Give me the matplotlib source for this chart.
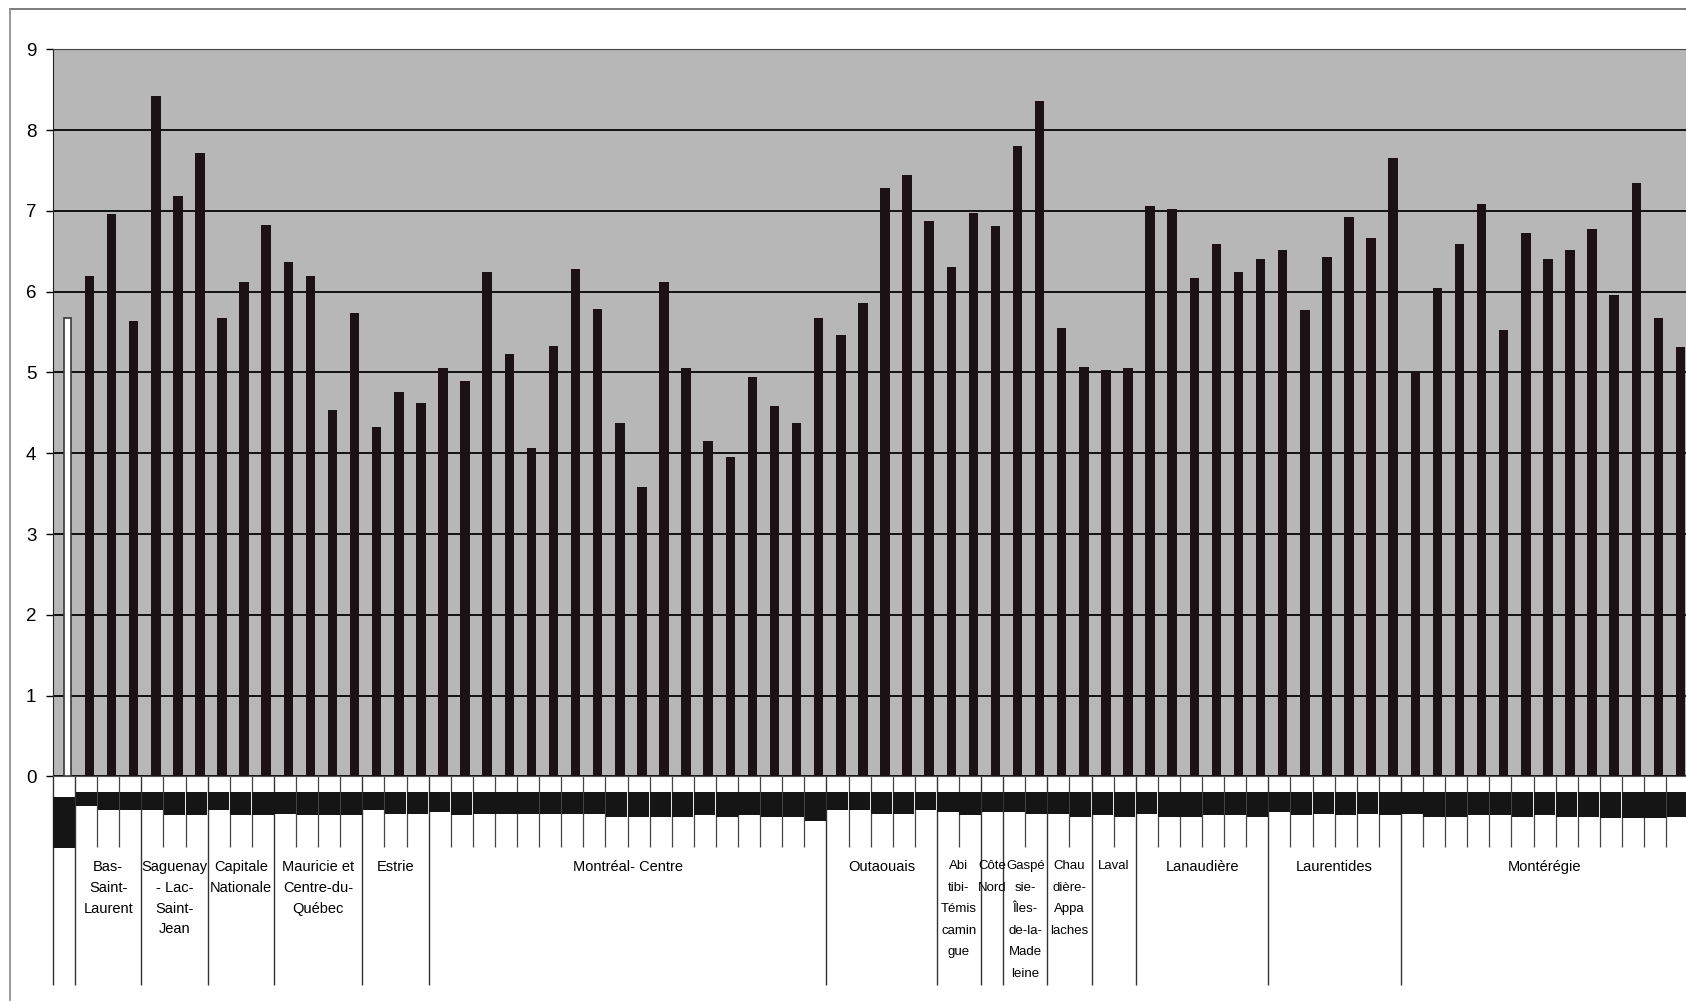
import matplotlib.pyplot as plt
from matplotlib.lines import Line2D

# region labels under the axis and how many bars each one covers
regions = ["", "Bas-\nSaint-\nLaurent", "Saguenay\n- Lac-\nSaint-\nJean", "Capitale\nNationale",
           "Mauricie et\nCentre-du-\nQuébec", "Estrie", "Montréal- Centre", "Outaouais",
           "Abi\ntibi-\nTémis\ncamin\ngue", "Côte\nNord", "Gaspé\nsie-\nÎles-\nde-la-\nMade\nleine",
           "Chau\ndière-\nAppa\nlaches", "Laval", "Lanaudière", "Laurentides", "Montérégie"]
region_sizes = [1, 3, 3, 3, 4, 3, 18, 5, 2, 1, 2, 2, 2, 6, 6, 13]

values = [5.68, 6.19, 6.96, 5.64, 8.42, 7.18, 7.72, 5.68, 6.12, 6.83,
          6.37, 6.19, 4.54, 5.73, 4.33, 4.76, 4.62, 5.05, 4.90, 6.24,
          5.23, 4.07, 5.33, 6.28, 5.78, 4.38, 3.58, 6.12, 5.05, 4.15,
          3.96, 4.95, 4.59, 4.38, 5.68, 5.47, 5.86, 7.28, 7.44, 6.87,
          6.30, 6.97, 6.81, 7.80, 8.36, 5.55, 5.07, 5.03, 5.05, 7.06,
          7.02, 6.17, 6.59, 6.24, 6.41, 6.52, 5.77, 6.43, 6.92, 6.66,
          7.66, 5.02, 6.04, 6.59, 7.09, 5.53, 6.73, 6.40, 6.52, 6.78,
          5.96, 7.35, 5.67, 5.31]

# the blurred sub-labels show up as black blocks below zero
label_top = [-0.26] + [-0.19] * 73
label_bottom = [-0.88, -0.37, -0.41, -0.41, -0.41, -0.48, -0.48, -0.41, -0.48, -0.48,
                -0.46, -0.48, -0.48, -0.48, -0.41, -0.46, -0.46, -0.44, -0.48, -0.46,
                -0.46, -0.47, -0.46, -0.46, -0.46, -0.50, -0.50, -0.50, -0.50, -0.48,
                -0.50, -0.48, -0.50, -0.50, -0.55, -0.41, -0.41, -0.46, -0.46, -0.41,
                -0.44, -0.48, -0.44, -0.44, -0.46, -0.46, -0.50, -0.48, -0.50, -0.46,
                -0.50, -0.50, -0.48, -0.48, -0.50, -0.44, -0.48, -0.46, -0.48, -0.46,
                -0.48, -0.46, -0.50, -0.50, -0.48, -0.48, -0.50, -0.48, -0.50, -0.50,
                -0.52, -0.52, -0.52, -0.50]

plt.rcParams['font.family'] = ['Liberation Sans', 'DejaVu Sans']

fig = plt.figure(figsize=(16.86, 10.02), dpi=100)
ax = fig.add_axes([53 / 1686, 0.2251, 1 - 53 / 1686, 0.7257])
ax.set_facecolor('#b7b7b7')

x = list(range(len(values)))
off = 0.15  # bars sit a bit right of their slot in the scan
xb = [i + off for i in x]
ax.bar(xb[1:], values[1:], width=0.43, color='#1c1114', zorder=3)
ax.bar(xb[0], values[0], width=0.3, facecolor='white', edgecolor='#3a3a3a', linewidth=1.2, zorder=3)

ax.set_ylim(0, 9)
ax.set_xlim(-0.5, 73.4)
ax.set_yticks(range(10))
ax.set_xticks([])
ax.tick_params(axis='y', length=5, width=1, labelsize=13.5, pad=7)
ax.yaxis.grid(True, color='#111111', linewidth=1.4, zorder=1)
ax.set_axisbelow(True)
ax.spines['right'].set_visible(False)
ax.spines['top'].set_color('#444444')
ax.spines['left'].set_color('#222222')
ax.spines['bottom'].set_color('#555555')
ax.spines['bottom'].set_linewidth(0.8)

# category band below the axis
heights = [b - t for b, t in zip(label_bottom, label_top)]
ax.bar(x, heights, bottom=label_top, width=0.96, color='#151515', clip_on=False, zorder=3)

bounds = [-0.5]
for n in region_sizes:
    bounds.append(bounds[-1] + n)
ticks = [i + 0.5 for i in range(-1, len(values))]
short = [t for t in ticks if t not in bounds]
ax.vlines(short, -0.87, 0, color='#444444', linewidth=0.9, clip_on=False)
ax.vlines(bounds, -2.58, 0, color='#333333', linewidth=1.0, clip_on=False)

for lab, n, a, b in zip(regions, region_sizes, bounds[:-1], bounds[1:]):
    if lab:
        fs = 9.5 if n <= 2 else 10.5
        ax.text((a + b) / 2, -1.04, lab, ha='center', va='top', fontsize=fs,
                linespacing=2.05 if n <= 2 else 1.6, clip_on=False)

# page frame from the scan
fig.add_artist(Line2D([10 / 1686, 1], [1 - 9 / 1002, 1 - 9 / 1002], color='#666666', linewidth=1.2))
fig.add_artist(Line2D([10 / 1686, 10 / 1686], [2 / 1002, 1 - 9 / 1002], color='#888888', linewidth=1.2))

fig.savefig('out.png', dpi=100)
